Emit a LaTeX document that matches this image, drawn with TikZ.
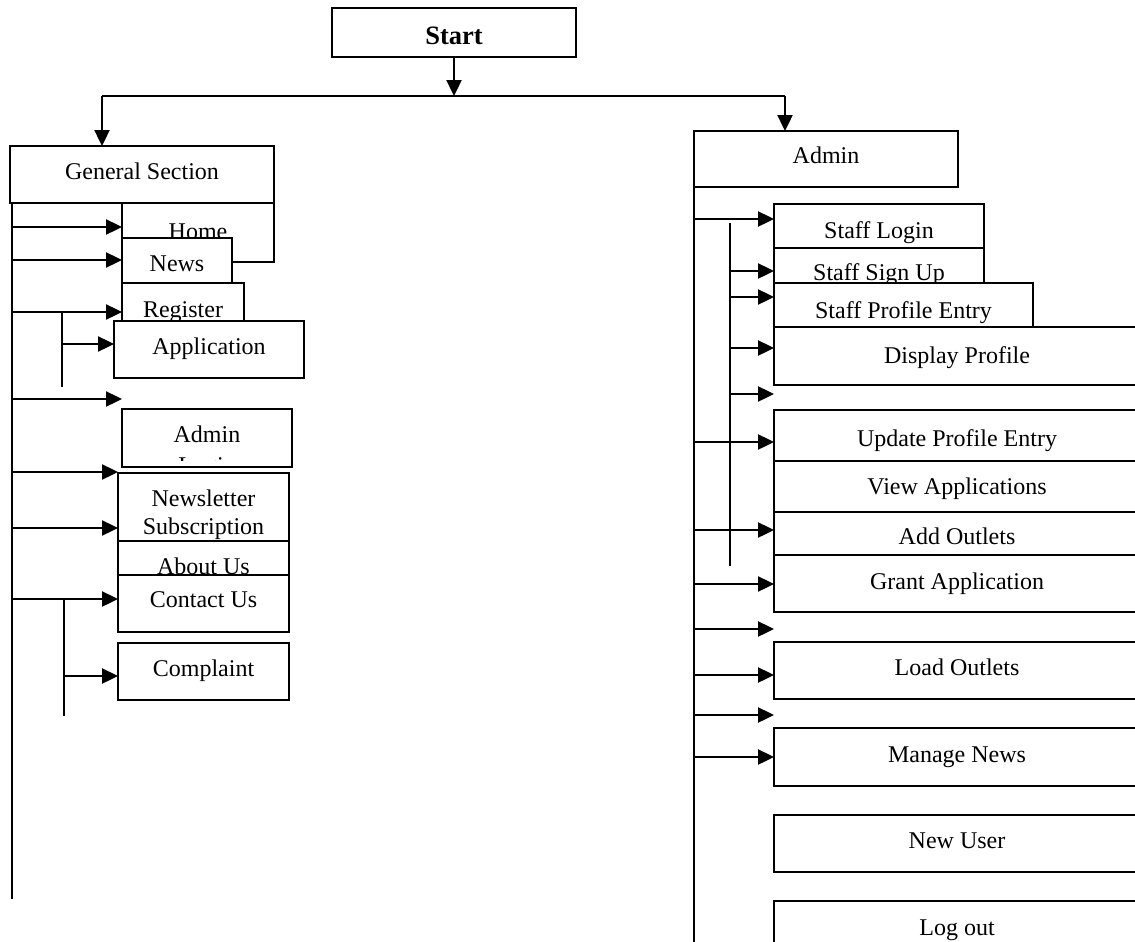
\documentclass[tikz,border=0pt]{standalone}
\usepackage{fontspec}
\setmainfont{Liberation Serif}
\usetikzlibrary{arrows.meta}

% a framed box given by its corners, with its caption set on a baseline
\newcommand\flowbox[7]{%
  \node[box, anchor=north west,
        minimum width={(#4-#2)*1pt}, minimum height={(#5-#3)*1pt}] (#1) at (#2,#3) {};
  \node[lbl, anchor=base] (#1-t) at ({(#2+#4)/2},#6) {#7};
}

\begin{document}
\begin{tikzpicture}[x=1pt,y=-1pt,
  box/.style={draw, fill=white, line width=1.8pt, inner sep=0pt, outer sep=0pt},
  lbl/.style={font=\fontsize{24}{28}\selectfont, inner sep=0pt},
  link/.style={line width=2.4pt, -{Triangle[length=16pt,width=15pt]}},
  trunk/.style={line width=2.2pt},
]
\clip (0,0) rectangle (1135,942);
\fill[white] (0,0) rectangle (1135,942);

% ---------- top ----------
\node[box, anchor=north west, minimum width=244pt, minimum height=49pt] (start) at (332,8) {};
\node[anchor=base, inner sep=0pt, font=\fontsize{26.5}{30}\selectfont\bfseries] (start-t) at (454,45) {Start};

\coordinate (busL) at (102,96);
\coordinate (busR) at (785,96);
\draw[link] (start.south) -- (start.south |- busL);
\draw[trunk] (busL) -- (busR);

% ---------- general section ----------
\flowbox{gs}{10}{146}{274}{203}{179}{General Section}
\flowbox{home}{122}{203}{274}{262}{239}{Home}
\flowbox{news}{122}{238}{232}{285}{271}{News}
\flowbox{reg}{122}{283}{244}{340}{317}{Register}
\flowbox{app}{114}{321}{304}{378}{354}{Application}
\flowbox{alog}{122}{409}{292}{467}{442}{Admin}
\begin{scope}
  \clip (124,411) rectangle (290,460);
  \node[lbl, anchor=base] (alog-t2) at (207,473) {Login};
\end{scope}
\flowbox{nl}{118}{473}{289}{541}{506}{Newsletter}
\node[lbl, anchor=base] (nl-t2) at (203.5,534) {Subscription};
\flowbox{about}{118}{541}{289}{590}{574}{About Us}
\flowbox{contact}{118}{575}{289}{632}{607}{Contact Us}
\flowbox{compl}{118}{643}{289}{700}{676}{Complaint}

\draw[link] (busL) -- (busL |- gs.north);

\coordinate (ltop) at (12,203);
\coordinate (lbot) at (12,899);
\draw[trunk] (ltop) -- (lbot);

\draw[link] (ltop |- 0,227) -- (home.west |- 0,227);
\draw[link] (ltop |- 0,260) -- (news.west |- 0,260);
\draw[link] (ltop |- 0,312) -- (reg.west |- 0,312);
\coordinate (lfree) at (122,399);
\draw[link] (ltop |- lfree) -- (lfree);
\draw[link] (ltop |- 0,472) -- (nl.west |- 0,472);
\draw[link] (ltop |- 0,528) -- (nl.west |- 0,528);
\draw[link] (ltop |- 0,599) -- (contact.west |- 0,599);

\coordinate (regT) at (62,312);
\coordinate (regB) at (62,387);
\draw[trunk] (regT) -- (regB);
\draw[link] (regT |- 0,344) -- (app.west |- 0,344);

\coordinate (conT) at (64,599);
\coordinate (conB) at (64,716);
\draw[trunk] (conT) -- (conB);
\draw[link] (conT |- 0,676) -- (compl.west |- 0,676);

% ---------- admin ----------
\flowbox{admin}{694}{131}{958}{187}{163}{Admin}
\flowbox{slogin}{774}{204}{984}{248}{238}{Staff Login}
\flowbox{ssign}{774}{248}{984}{300}{280}{Staff Sign Up}
\flowbox{sprof}{774}{283}{1033}{327}{318}{Staff Profile Entry}
\flowbox{disp}{774}{327}{1140}{385}{363}{Display Profile}
\flowbox{upd}{774}{410}{1140}{461}{446}{Update Profile Entry}
\flowbox{view}{774}{461}{1140}{512}{494}{View Applications}
\flowbox{addo}{774}{512}{1140}{555}{544}{Add Outlets}
\flowbox{grant}{774}{555}{1140}{612}{589}{Grant Application}
\flowbox{load}{774}{642}{1140}{699}{675}{Load Outlets}
\flowbox{manage}{774}{728}{1140}{786}{762}{Manage News}
\flowbox{newu}{774}{815}{1140}{872}{848}{New User}
\flowbox{logout}{774}{901}{1140}{960}{935}{Log out}

\draw[link] (busR) -- (busR |- admin.north);

\coordinate (rtop) at (694,187);
\coordinate (rbot) at (694,942);
\draw[trunk] (rtop) -- (rbot);

\coordinate (inT) at (730,223);
\coordinate (inB) at (730,566);
\draw[trunk] (inT) -- (inB);

\draw[link] (rtop |- 0,219) -- (slogin.west |- 0,219);
\draw[link] (inT |- 0,271) -- (ssign.west |- 0,271);
\draw[link] (inT |- 0,297) -- (sprof.west |- 0,297);
\draw[link] (inT |- 0,348) -- (disp.west |- 0,348);
\coordinate (rfree1) at (774,394);
\draw[link] (inT |- rfree1) -- (rfree1);

\draw[link] (rtop |- 0,442) -- (upd.west |- 0,442);
\draw[link] (rtop |- 0,530) -- (addo.west |- 0,530);
\draw[link] (rtop |- 0,584) -- (grant.west |- 0,584);
\coordinate (rfree2) at (774,629);
\draw[link] (rtop |- rfree2) -- (rfree2);
\draw[link] (rtop |- 0,675) -- (load.west |- 0,675);
\coordinate (rfree3) at (774,715);
\draw[link] (rtop |- rfree3) -- (rfree3);
\draw[link] (rtop |- 0,757) -- (manage.west |- 0,757);
\end{tikzpicture}
\end{document}
